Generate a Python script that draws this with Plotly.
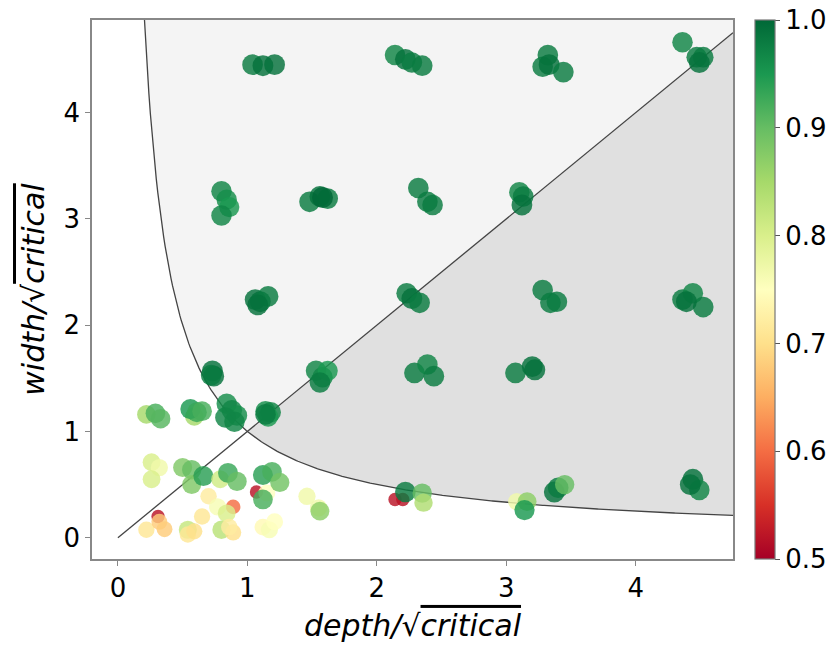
import numpy as np
import plotly.graph_objects as go

# data: (depth, width, score)
depth = [1.04, 1.12, 1.21,
         2.14, 2.22, 2.27, 2.35,
         3.32, 3.28, 3.33, 3.44,
         4.36, 4.47, 4.52, 4.49,
         0.80, 0.84, 0.86, 0.80,
         1.48, 1.56, 1.62, 1.58,
         2.32, 2.39, 2.43,
         3.10, 3.13, 3.12,
         1.06, 1.10, 1.16, 1.08,
         2.23, 2.27, 2.33,
         3.28, 3.34, 3.39,
         4.36, 4.44, 4.52, 4.39,
         0.73, 0.74, 0.72,
         1.53, 1.58, 1.62, 1.56,
         2.29, 2.39, 2.44,
         3.07, 3.20, 3.22,
         0.22, 0.29, 0.33,
         0.59, 0.56, 0.61, 0.65,
         0.84, 0.88, 0.92, 0.90, 0.83,
         1.14, 1.18, 1.16, 1.14,
         0.31, 0.22, 0.32, 0.36,
         0.26, 0.32, 0.26,
         0.50, 0.57, 0.57, 0.66,
         0.70, 0.65, 0.54, 0.54, 0.59,
         0.79, 0.85, 0.92,
         0.89, 0.77, 0.84, 0.80, 0.89, 0.86,
         1.07, 1.15, 1.12, 1.12, 1.19, 1.25,
         1.12, 1.17, 1.21,
         1.46, 1.55, 1.56,
         2.14, 2.20, 2.22, 2.35, 2.36,
         3.08, 3.16, 3.14,
         3.37, 3.40, 3.45,
         4.44, 4.49, 4.42]
width = [4.45, 4.44, 4.45,
         4.54, 4.50, 4.47, 4.44,
         4.54, 4.43, 4.45, 4.38,
         4.66, 4.52, 4.52, 4.47,
         3.26, 3.18, 3.11, 3.03,
         3.16, 3.21, 3.19, 3.20,
         3.29, 3.16, 3.13,
         3.25, 3.21, 3.13,
         2.24, 2.22, 2.27, 2.19,
         2.30, 2.25, 2.21,
         2.33, 2.21, 2.22,
         2.24, 2.30, 2.17, 2.22,
         1.57, 1.52, 1.53,
         1.57, 1.51, 1.57, 1.46,
         1.55, 1.63, 1.52,
         1.55, 1.61, 1.58,
         1.16, 1.17, 1.12,
         1.14, 1.21, 1.18, 1.19,
         1.26, 1.20, 1.15, 1.09, 1.13,
         1.19, 1.18, 1.14, 1.16,
         0.20, 0.075, 0.15, 0.08,
         0.71, 0.66, 0.55,
         0.66, 0.64, 0.50, 0.58,
         0.39, 0.20, 0.075, 0.03, 0.06,
         0.55, 0.61, 0.53,
         0.29, 0.29, 0.23, 0.075, 0.05, 0.10,
         0.43, 0.42, 0.36, 0.59, 0.62, 0.52,
         0.10, 0.075, 0.15,
         0.39, 0.28, 0.25,
         0.36, 0.36, 0.43, 0.42, 0.33,
         0.34, 0.34, 0.26,
         0.43, 0.47, 0.50,
         0.55, 0.45, 0.50]
score = [0.98, 0.99, 0.99,
         0.97, 0.99, 0.98, 0.98,
         0.98, 0.98, 0.99, 0.98,
         0.97, 0.98, 0.98, 0.99,
         0.97, 0.96, 0.95, 0.97,
         0.98, 0.99, 0.98, 1.00,
         0.98, 0.98, 0.98,
         0.97, 0.98, 0.99,
         0.99, 0.99, 0.98, 0.99,
         0.98, 0.99, 0.98,
         0.98, 0.98, 0.98,
         0.98, 0.97, 0.98, 0.99,
         0.99, 0.99, 0.98,
         0.97, 0.97, 0.95, 0.98,
         0.98, 0.97, 0.98,
         0.98, 0.99, 0.99,
         0.85, 0.92, 0.91,
         0.85, 0.95, 0.93, 0.92,
         0.96, 0.97, 0.96, 0.97, 0.97,
         0.96, 0.97, 0.95, 0.98,
         0.52, 0.71, 0.68, 0.68,
         0.80, 0.77, 0.80,
         0.88, 0.90, 0.88, 0.94,
         0.72, 0.71, 0.82, 0.71, 0.70,
         0.81, 0.93, 0.90,
         0.60, 0.76, 0.80, 0.83, 0.70, 0.72,
         0.52, 0.75, 0.92, 0.94, 0.92, 0.89,
         0.74, 0.76, 0.75,
         0.77, 0.77, 0.87,
         0.52, 0.52, 0.98, 0.90, 0.84,
         0.77, 0.87, 0.95,
         0.99, 0.98, 0.90,
         0.99, 0.97, 0.99]

x_range = [-0.2, 4.75]
y_range = [-0.2, 4.87]
x_ticks = [0, 1, 2, 3, 4]
y_ticks = [0, 1, 2, 3, 4]
cbar_ticks = [0.5, 0.6, 0.7, 0.8, 0.9, 1.0]

fig = go.Figure()

# light region: width*depth >= 1
x0 = 1.0 / y_range[1]
hx = np.linspace(x0, x_range[1], 400)
hy = 1.0 / hx
lx = np.concatenate([hx, [x_range[1], x0]])
ly = np.concatenate([hy, [y_range[1], y_range[1]]])
fig.add_trace(go.Scatter(x=lx, y=ly, mode="lines", fill="toself",
                         fillcolor="#f4f4f4", line=dict(width=0),
                         hoverinfo="skip", showlegend=False))
# dark region: above hyperbola and below diagonal
dx = np.linspace(1.0, x_range[1], 300)
dy = 1.0 / dx
px_ = np.concatenate([dx, [x_range[1], 1.0]])
py_ = np.concatenate([dy, [x_range[1], 1.0]])
fig.add_trace(go.Scatter(x=px_, y=py_, mode="lines", fill="toself",
                         fillcolor="#e0e0e0", line=dict(width=0),
                         hoverinfo="skip", showlegend=False))
# curves
fig.add_trace(go.Scatter(x=hx, y=hy, mode="lines",
                         line=dict(color="#444444", width=1.3),
                         hoverinfo="skip", showlegend=False))
fig.add_trace(go.Scatter(x=[0, x_range[1]], y=[0, x_range[1]], mode="lines",
                         line=dict(color="#444444", width=1.3),
                         hoverinfo="skip", showlegend=False))

sc = np.array(score)
sizes = 13 + 16 * (sc - 0.5)

fig.add_trace(go.Scatter(
    x=depth, y=width, mode="markers", showlegend=False,
    marker=dict(size=sizes, color=score, colorscale="RdYlGn", cmin=0.5, cmax=1.0,
                opacity=0.82, line=dict(width=0),
                colorbar=dict(x=1.0343, xanchor="left", y=0.5, yanchor="middle",
                              len=1.0, lenmode="fraction", thickness=20,
                              xpad=0, ypad=0,
                              outlinewidth=1.2, outlinecolor="#777777",
                              tickvals=cbar_ticks, tickformat=".1f",
                              ticks="outside", ticklen=5, tickcolor="#555555",
                              tickfont=dict(size=26, color="black",
                                            family="DejaVu Sans")))))

axis_common = dict(showgrid=False, zeroline=False, showline=True, mirror=True,
                   linecolor="#888888", linewidth=1.5, ticks="outside",
                   ticklen=5, tickcolor="#888888",
                   tickfont=dict(size=26, color="black", family="DejaVu Sans"))

fig.update_layout(
    width=836, height=649,
    margin=dict(l=92, r=103, t=20, b=90, autoexpand=False),
    paper_bgcolor="white", plot_bgcolor="white",
    font=dict(family="DejaVu Sans", color="black"),
    xaxis=dict(range=x_range, tickvals=x_ticks,
               title=dict(text="<i>depth/√<span style='text-decoration:overline'>critical</span></i>",
                          font=dict(size=30), standoff=13),
               **axis_common),
    yaxis=dict(range=y_range, tickvals=y_ticks,
               title=dict(text="<i>width/√<span style='text-decoration:overline'>critical</span></i>",
                          font=dict(size=30), standoff=10),
               **axis_common),
)

fig.write_html("out.html")
